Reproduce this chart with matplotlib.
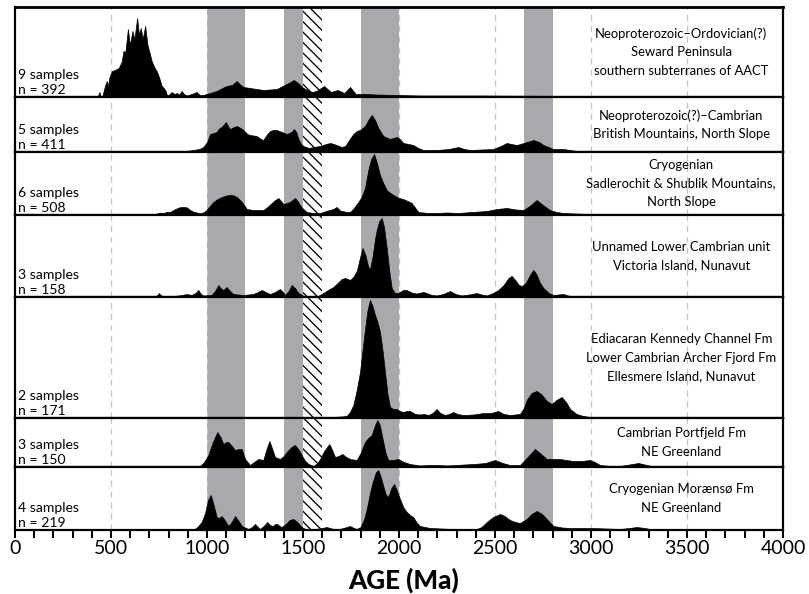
import matplotlib
matplotlib.use("Agg")
import matplotlib.pyplot as plt
import matplotlib.transforms as mtransforms
from matplotlib.ticker import MultipleLocator

# ---------------- data ----------------
units = [
    "Neoproterozoic–Ordovician(?)\nSeward Peninsula\nsouthern subterranes of AACT",
    "Neoproterozoic(?)–Cambrian\nBritish Mountains, North Slope",
    "Cryogenian\nSadlerochit & Shublik Mountains,\nNorth Slope",
    "Unnamed Lower Cambrian unit\nVictoria Island, Nunavut",
    "Ediacaran Kennedy Channel Fm\nLower Cambrian Archer Fjord Fm\nEllesmere Island, Nunavut",
    "Cambrian Portfjeld Fm\nNE Greenland",
    "Cryogenian Moræns\u00f8 Fm\nNE Greenland",
]
n_samples = [9, 5, 6, 3, 2, 3, 4]
n_grains = [392, 411, 508, 158, 171, 150, 219]

# relative probability curves: ages (Ma) and heights (relative units)
seward_age = [430, 440, 446, 455, 470, 478, 483, 492, 505, 520, 540, 555, 565, 575, 588, 598, 612, 622,
              636, 646, 655, 665, 678, 690, 700, 712, 725, 738, 750, 764, 775, 785, 792, 800, 816, 830,
              842, 855, 868, 880, 894, 920, 946, 962, 980, 1016, 1050, 1080, 1102, 1130, 1155, 1170,
              1190, 1224, 1293, 1363, 1415, 1453, 1480, 1502, 1545, 1570, 1610, 1645, 1680, 1715, 1745,
              1775, 1830, 1884, 1990, 2100, 2400, 2700, 2995, 3050]
seward_rel = [0, 5, 0.5, 1, 12, 16, 10, 20, 26, 27, 29, 35, 46, 45, 68, 52, 66, 58,
              79, 62, 69, 58, 71, 52, 45, 36, 30, 26, 20, 11, 9, 6, 1.5, 2, 5, 3,
              4, 2.5, 6, 3, 1.5, 3, 5, 2, 2, 4, 6, 9, 11, 12, 16, 13,
              10, 9, 7, 8, 13, 17, 13, 9, 5, 6, 11, 5, 7, 4, 10,
              3, 3, 2.5, 2, 1.5, 1.5, 1.2, 1, 0]

british_age = [700, 850, 911, 960, 981, 1000, 1016, 1035, 1050, 1065, 1076, 1099, 1112, 1120, 1140, 1155,
               1175, 1189, 1210, 1224, 1259, 1280, 1293, 1310, 1328, 1345, 1363, 1390, 1415, 1440, 1453,
               1465, 1476, 1490, 1502, 1530, 1554, 1589, 1620, 1641, 1660, 1675, 1700, 1720, 1740, 1762,
               1780, 1797, 1823, 1840, 1858, 1875, 1892, 1918, 1953, 1988, 2005, 2022, 2050, 2074, 2100,
               2127, 2196, 2260, 2309, 2340, 2370, 2430, 2491, 2530, 2561, 2585, 2613, 2650, 2700, 2730,
               2752, 2804, 2856, 2925, 2980, 3050]
british_rel = [0, 0.5, 1.5, 3, 5, 10, 18, 19, 20, 24, 25, 30, 25, 23, 25, 26,
               24, 22, 18, 17, 16, 13, 12, 17, 21, 22, 22, 20, 18, 20, 23,
               20, 13, 8, 6, 4, 5, 6, 8, 9, 8, 7, 5, 6, 12, 18,
               21, 22, 26, 32, 37, 32, 24, 16, 13, 15, 13, 9, 8, 7, 4,
               2, 2, 3, 5, 3, 2, 2.5, 3, 6, 9, 8, 7, 9, 12, 10,
               7, 3, 3, 1, 0.3, 0]

sadlerochit_age = [700, 729, 745, 755, 775, 790, 805, 816, 835, 856, 875, 894, 912, 929, 964, 985, 998,
                   1015, 1033, 1055, 1076, 1100, 1120, 1140, 1155, 1172, 1186, 1207, 1241, 1270, 1293,
                   1315, 1337, 1355, 1372, 1385, 1398, 1415, 1432, 1458, 1472, 1484, 1500, 1519, 1554,
                   1589, 1620, 1658, 1675, 1693, 1727, 1745, 1765, 1788, 1805, 1823, 1840, 1855, 1870,
                   1885, 1901, 1918, 1936, 1955, 1979, 2000, 2022, 2045, 2066, 2085, 2101, 2150, 2196,
                   2250, 2309, 2380, 2457, 2510, 2561, 2610, 2648, 2680, 2717, 2750, 2786, 2820, 2856,
                   2977, 3050]
sadlerochit_rel = [0, 0.5, 2, 2.3, 2, 3.3, 3, 4, 6, 7.7, 8, 7.7, 5, 3.3, 1.7, 3, 5,
                   9, 13, 16, 18, 19.5, 20, 19.5, 18, 15, 12, 6, 5, 5, 5,
                   8, 12, 15, 17, 14, 11, 12, 13, 17, 14, 10, 6, 3, 2,
                   2, 4, 6, 8, 4.5, 3, 3, 7, 13, 18, 27, 45, 56, 61,
                   52, 40, 32, 25, 22, 19, 17, 16, 14, 12, 7, 3, 2, 2,
                   2.5, 2, 3, 4, 6, 7, 5.5, 5, 9, 15, 10, 5, 3, 2,
                   1, 0]

victoria_age = [700, 729, 742, 750, 758, 773, 842, 870, 894, 920, 940, 955, 968, 981, 1024, 1045, 1059,
                1070, 1085, 1102, 1115, 1137, 1189, 1241, 1265, 1285, 1305, 1328, 1355, 1380, 1395, 1406,
                1425, 1441, 1458, 1476, 1502, 1540, 1571, 1606, 1630, 1658, 1680, 1701, 1720, 1745, 1762,
                1780, 1795, 1810, 1825, 1840, 1849, 1862, 1875, 1884, 1897, 1910, 1922, 1936, 1950, 1962,
                1979, 1995, 2022, 2040, 2060, 2074, 2092, 2127, 2144, 2170, 2196, 2230, 2266, 2295, 2326,
                2365, 2405, 2430, 2457, 2490, 2517, 2545, 2570, 2587, 2605, 2625, 2639, 2660, 2685, 2700,
                2715, 2735, 2752, 2780, 2804, 2830, 2856, 2880, 2908, 2950]
victoria_rel = [0, 0.7, 2, 4, 2, 0.7, 1.3, 2, 3, 2, 4, 7, 3, 1.5, 2, 7, 12,
                9, 7, 10, 7, 3, 2, 3, 5, 7, 5, 3, 5, 8, 5, 2,
                6, 12, 9, 4, 1.3, 0.5, 0.2, 4, 7, 10, 14, 18, 19, 17, 20,
                26, 38, 49, 42, 30, 28, 40, 58, 67, 76, 79, 70, 49, 25, 9,
                4, 4, 7, 7, 5, 4, 3.5, 5, 4, 2, 1.5, 3, 6, 3, 1.5,
                2.5, 4, 2.5, 1.5, 4, 7, 12, 19, 21, 17, 12, 11, 14, 23, 27,
                23, 14, 9, 4, 2, 2.5, 3, 1.5, 0.7, 0]

ellesmere_age = [1550, 1600, 1650, 1700, 1727, 1745, 1762, 1780, 1797, 1810, 1823, 1836, 1849, 1862, 1875,
                 1888, 1901, 1914, 1927, 1940, 1953, 1970, 1988, 2005, 2022, 2040, 2057, 2085, 2109, 2130,
                 2153, 2175, 2196, 2215, 2240, 2260, 2283, 2305, 2335, 2390, 2439, 2480, 2517, 2545, 2578,
                 2630, 2650, 2665, 2690, 2717, 2740, 2770, 2795, 2820, 2847, 2870, 2891, 2925, 2960, 2995,
                 3030, 3060]
ellesmere_rel = [0, 0.5, 1, 1.5, 2, 6, 13, 28, 46, 68, 89, 108, 118, 112, 103,
                 96, 86, 68, 46, 24, 11, 9, 9, 7, 6, 7, 7, 4, 3.5, 4,
                 3, 5, 9, 5, 3, 4, 6, 4, 3, 3.5, 5, 5, 7, 4, 3,
                 4, 10, 18, 25, 27, 24, 17, 14, 18, 21, 16, 9, 4, 2, 1,
                 0.3, 0]

portfjeld_age = [900, 940, 964, 985, 1007, 1030, 1054, 1070, 1085, 1100, 1111, 1125, 1146, 1165, 1181, 1198,
                 1224, 1245, 1267, 1293, 1310, 1325, 1340, 1354, 1380, 1400, 1415, 1440, 1458, 1475, 1493,
                 1510, 1528, 1554, 1575, 1589, 1610, 1637, 1652, 1667, 1685, 1705, 1725, 1745, 1780, 1800,
                 1823, 1840, 1858, 1875, 1888, 1900, 1918, 1930, 1944, 1970, 1996, 2025, 2057, 2109, 2160,
                 2196, 2250, 2300, 2340, 2387, 2450, 2500, 2540, 2578, 2630, 2665, 2708, 2740, 2769, 2800,
                 2839, 2870, 2908, 2950, 2995, 3020, 3047, 3100, 3151, 3200, 3247, 3290, 3325, 3360]
portfjeld_rel = [0, 0.5, 1, 5, 12, 25, 35, 30, 23, 25, 25, 22, 17, 18, 18, 8,
                 2, 5, 8, 7, 18, 26, 18, 10, 8, 11, 15, 20, 22, 18, 12,
                 6, 3, 1, 4, 8, 16, 23, 17, 10, 11, 13, 10, 8, 7, 14,
                 25, 29, 32, 42, 47, 42, 25, 14, 7, 7, 8, 5, 3, 1.5, 2,
                 2, 1.5, 2, 2.5, 3, 4, 7, 4, 2, 2, 9, 18, 13, 8, 8,
                 8, 7, 6, 6, 7, 5, 2, 1, 1, 2.5, 4, 2, 0.7, 0]

moraenso_age = [900, 929, 950, 972, 990, 1005, 1019, 1032, 1050, 1063, 1076, 1092, 1111, 1128, 1146, 1165,
                1181, 1215, 1235, 1250, 1265, 1276, 1295, 1314, 1328, 1342, 1355, 1366, 1378, 1389, 1410,
                1430, 1450, 1470, 1493, 1519, 1560, 1600, 1623, 1650, 1675, 1710, 1745, 1765, 1780, 1800,
                1820, 1832, 1850, 1863, 1880, 1892, 1905, 1918, 1930, 1944, 1960, 1974, 1988, 2005, 2022,
                2040, 2057, 2074, 2090, 2109, 2161, 2220, 2283, 2405, 2430, 2457, 2490, 2526, 2550, 2578,
                2605, 2630, 2665, 2690, 2717, 2745, 2769, 2804, 2850, 2891, 2950, 3012, 3080, 3151, 3200,
                3238, 3280, 3325, 3360]
moraenso_rel = [0, 0.3, 3, 8, 17, 30, 35, 27, 13, 12, 14, 10, 4, 8, 14, 9,
                4, 1, 3, 6, 3, 1, 4, 8, 5, 4, 6, 6, 4, 3, 6,
                10, 11, 8, 3, 0.3, 1, 2, 3, 1.5, 0.3, 2, 4, 2, 1, 3,
                12, 21, 38, 48, 58, 60, 53, 44, 36, 33, 42, 46, 40, 31, 23,
                18, 15, 13, 8, 4, 2, 1.5, 1, 1, 3, 8, 13, 16, 14, 10,
                8, 7, 11, 16, 19, 16, 11, 4, 2.5, 2, 2, 2, 1.5, 1, 2,
                3, 2, 0.3, 0]

curve_ages = [seward_age, british_age, sadlerochit_age, victoria_age, ellesmere_age, portfjeld_age, moraenso_age]
curve_rels = [seward_rel, british_rel, sadlerochit_rel, victoria_rel, ellesmere_rel, portfjeld_rel, moraenso_rel]

gray_bands = [(1000, 1200), (1400, 1500), (1800, 2000), (2650, 2800)]
hatched_band = (1500, 1600)
x_ticks_major = list(range(0, 4001, 500))

# ---------------- layout ----------------
DPI = 125
W, H = 809, 594
plt.rcParams['font.family'] = ['Lato', 'DejaVu Sans']
plt.rcParams['hatch.linewidth'] = 0.75


def pt(px):
    return px * 72.0 / DPI


panel_scale = [90, 55, 63, 82, 121, 49, 63]

fig = plt.figure(figsize=(W / DPI, H / DPI), dpi=DPI)
gs = fig.add_gridspec(7, 1, height_ratios=panel_scale, hspace=0,
                      left=15 / W, right=783 / W, top=1 - 7 / H, bottom=1 - 530 / H)

axes = []
for i in range(7):
    ax = fig.add_subplot(gs[i, 0])
    axes.append(ax)
    ax.set_xlim(0, 4000)
    ax.set_ylim(0, panel_scale[i])
    for lo, hi in gray_bands:
        ax.axvspan(lo, hi, facecolor='#a7a9ac', edgecolor='none', zorder=0)
    ax.axvspan(hatched_band[0], hatched_band[1], facecolor='white', edgecolor='black',
               hatch='\\\\\\\\', linewidth=0, zorder=1)
    for xv in x_ticks_major[1:-1]:
        ax.axvline(xv, color='#c4c4c4', lw=0.7, ls=(0, (5, 4)), zorder=0.5)
    ax.fill_between(curve_ages[i], 0, curve_rels[i], facecolor='black', edgecolor='black',
                    lw=0.4, zorder=3)
    for s in ax.spines.values():
        s.set_linewidth(pt(2.2))
        s.set_zorder(5)
    ax.set_yticks([])
    # left label
    ax.annotate(f"{n_samples[i]} samples\nn = {n_grains[i]}", xy=(0, 0), xycoords='axes fraction',
                xytext=(pt(3), pt(1)), textcoords='offset points', ha='left', va='bottom',
                fontsize=pt(14), linespacing=1.3, zorder=6)
    # right label
    trans = mtransforms.blended_transform_factory(ax.transData, ax.transAxes)
    ax.text(3470, 0.5, units[i], transform=trans, ha='center', va='center',
            fontsize=pt(13), linespacing=1.65, zorder=6)
    if i < 6:
        ax.tick_params(bottom=False, labelbottom=False, left=False)
    else:
        ax.xaxis.set_major_locator(MultipleLocator(500))
        ax.xaxis.set_minor_locator(MultipleLocator(100))
        ax.tick_params(which='both', direction='out', length=pt(8), width=pt(2),
                       labelsize=pt(19.5), pad=pt(2), left=False)

axes[0].spines['top'].set_linewidth(pt(2.8))

fig.text(404 / W, 1 - 580 / H, 'AGE (Ma)', ha='center', va='center',
         fontsize=pt(26), fontweight='black')

fig.savefig('out.png', dpi=DPI)
